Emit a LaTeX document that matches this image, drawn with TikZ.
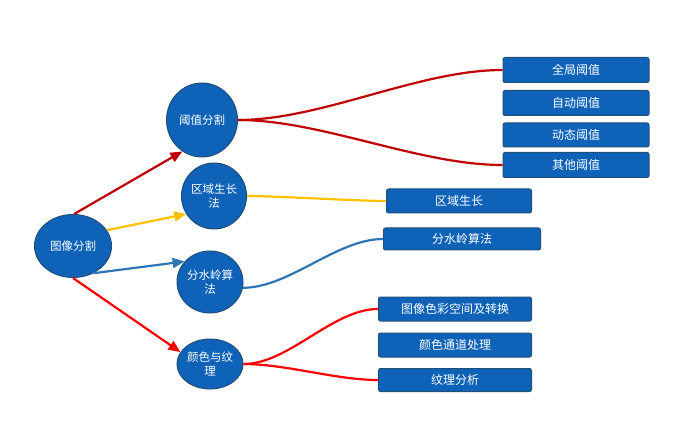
\documentclass[tikz,border=0pt]{standalone}
\usepackage{fontspec}
\setmainfont{Noto Sans CJK SC}
\usetikzlibrary{arrows.meta,shapes.geometric}
\definecolor{nodefill}{HTML}{0E63B8}
\definecolor{nodeedge}{HTML}{1F4E79}
\definecolor{cdarkred}{HTML}{C00000}
\definecolor{cyellow}{HTML}{FFC000}
\definecolor{cblue}{HTML}{2E75B6}
\definecolor{cred}{HTML}{FF0000}
\begin{document}
\begin{tikzpicture}[x=1pt,y=-1pt,
  topic/.style={ellipse,draw=nodeedge,line width=1pt,fill=nodefill,text=white,inner sep=0pt,align=center,font=\fontsize{11.5}{14.5}\selectfont},
  leaf/.style={rectangle,rounded corners=2pt,draw=nodeedge,line width=1pt,fill=nodefill,text=white,inner sep=0pt,font=\fontsize{12}{14}\selectfont},
  arr/.style={line width=2.2pt,-{Triangle[length=12pt,width=10pt]}},
  link/.style={line width=2.2pt}]
\useasboundingbox (0,0) rectangle (697,433);
% main topic
\node[topic,minimum width=77pt,minimum height=63pt] (root) at (73,246) {图像分割};
% sub topics
\node[topic,minimum width=71pt,minimum height=74pt] (yz) at (202,120) {阈值分割};
\node[topic,minimum width=65pt,minimum height=66pt] (qy) at (214,196) {区域生长\\法};
\node[topic,minimum width=66pt,minimum height=62pt] (fs) at (210,282) {分水岭算\\法};
\node[topic,minimum width=66pt,minimum height=50pt] (ys) at (210,364) {颜色与纹\\理};
% leaves
\node[leaf,minimum width=146pt,minimum height=25pt] (l1) at (576,70) {全局阈值};
\node[leaf,minimum width=146pt,minimum height=25pt] (l2) at (576,103) {自动阈值};
\node[leaf,minimum width=146pt,minimum height=24pt] (l3) at (576,135) {动态阈值};
\node[leaf,minimum width=146pt,minimum height=25pt] (l4) at (576,165) {其他阈值};
\node[leaf,minimum width=145pt,minimum height=24pt] (l5) at (459,201) {区域生长};
\node[leaf,minimum width=157pt,minimum height=22pt] (l6) at (462,239) {分水岭算法};
\node[leaf,minimum width=153pt,minimum height=24pt] (l7) at (455,309) {图像色彩空间及转换};
\node[leaf,minimum width=153pt,minimum height=24pt] (l8) at (455,345) {颜色通道处理};
\node[leaf,minimum width=153pt,minimum height=23pt] (l9) at (455,380) {纹理分析};
% arrows from root
\draw[arr,cdarkred] (root.88) -- (yz.238);
\draw[arr,cyellow] (root.25) -- (qy.213);
\draw[arr,cblue] (root.-53) -- (fs.141);
\draw[arr,cred] (root.-90) -- (ys.158);
% links to leaves
\draw[link,cdarkred] (yz.east) to[out=0,in=180,looseness=0.8] (l1.west);
\draw[link,cdarkred] (yz.east) to[out=0,in=180,looseness=0.8] (l4.west);
\draw[link,cyellow] (qy.east) to[out=0,in=180,looseness=0.5] (l5.west);
\draw[link,cblue] (fs.-10) to[out=0,in=180,looseness=0.8] (l6.west);
\draw[link,cred] (ys.east) to[out=0,in=180,looseness=0.8] (l7.west);
\draw[link,cred] (ys.east) to[out=0,in=180,looseness=0.8] (l9.west);
\end{tikzpicture}
\end{document}
